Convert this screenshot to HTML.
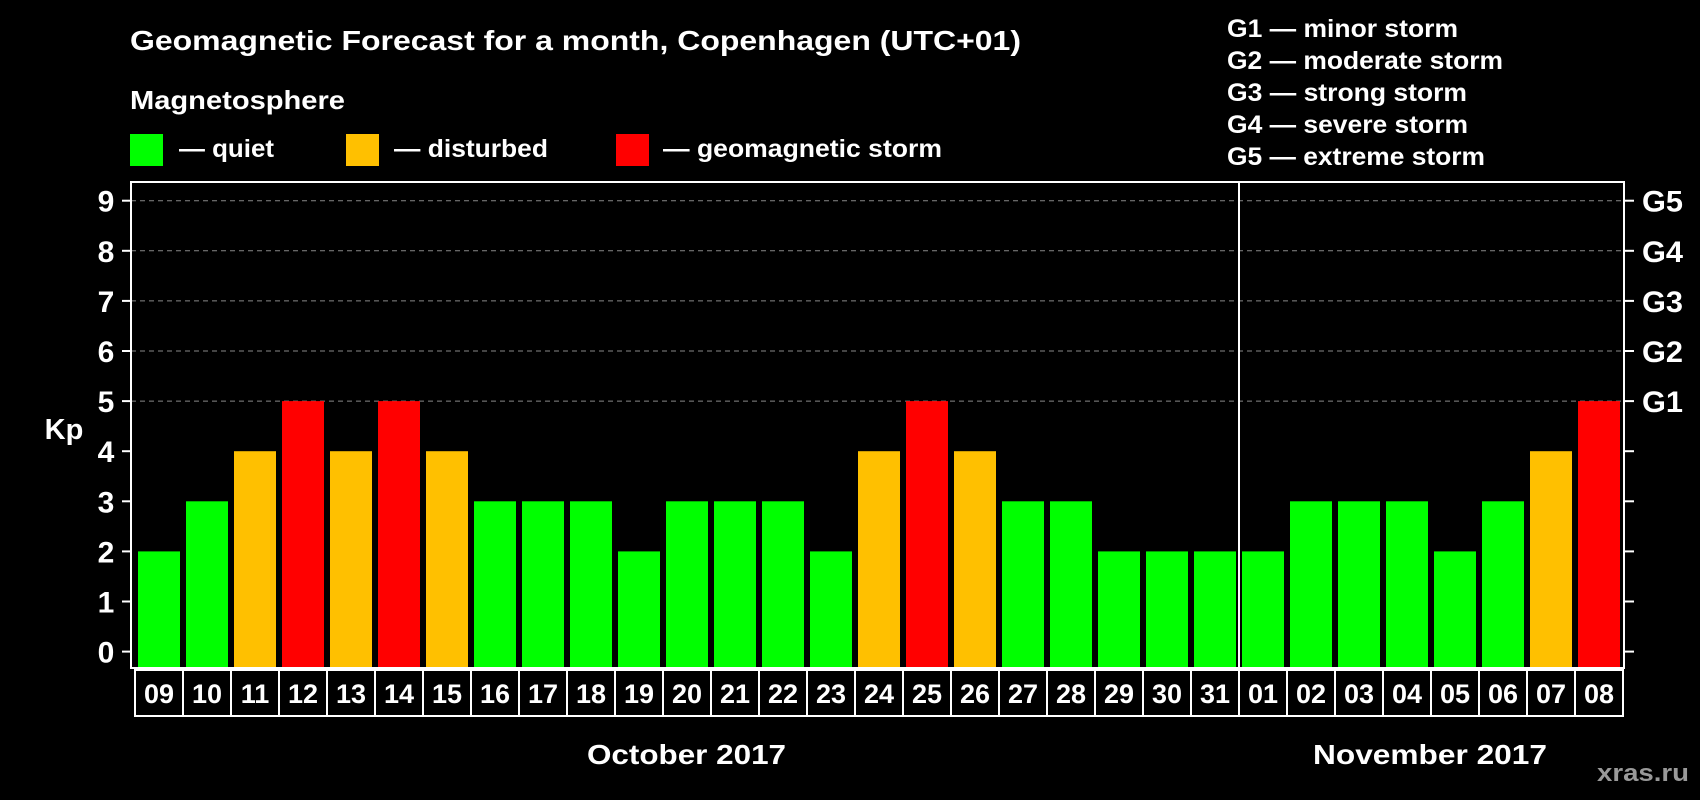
<!DOCTYPE html>
<html><head><meta charset="utf-8"><style>
html,body{margin:0;padding:0;background:#000;}
svg{display:block;font-family:"Liberation Sans",Arial,sans-serif;font-weight:bold;}
</style></head><body>
<svg id="chart" width="1700" height="800" viewBox="0 0 1700 800">
<rect width="1700" height="800" fill="#000"/>
<text x="130" y="50" fill="#fff" font-size="28" textLength="891" lengthAdjust="spacingAndGlyphs">Geomagnetic Forecast for a month, Copenhagen (UTC+01)</text>
<text x="130" y="109" fill="#fff" font-size="26" textLength="215" lengthAdjust="spacingAndGlyphs">Magnetosphere</text>
<rect x="130" y="134" width="33" height="32" fill="#00ff00"/>
<text x="179" y="157" fill="#fff" font-size="25" textLength="95" lengthAdjust="spacingAndGlyphs">— quiet</text>
<rect x="346" y="134" width="33" height="32" fill="#ffc000"/>
<text x="394" y="157" fill="#fff" font-size="25" textLength="154" lengthAdjust="spacingAndGlyphs">— disturbed</text>
<rect x="616" y="134" width="33" height="32" fill="#ff0000"/>
<text x="663" y="157" fill="#fff" font-size="25" textLength="279" lengthAdjust="spacingAndGlyphs">— geomagnetic storm</text>
<g fill="#fff" font-size="25">
<text x="1227" y="37" textLength="231" lengthAdjust="spacingAndGlyphs">G1 — minor storm</text>
<text x="1227" y="69" textLength="276" lengthAdjust="spacingAndGlyphs">G2 — moderate storm</text>
<text x="1227" y="101" textLength="240" lengthAdjust="spacingAndGlyphs">G3 — strong storm</text>
<text x="1227" y="133" textLength="241" lengthAdjust="spacingAndGlyphs">G4 — severe storm</text>
<text x="1227" y="165" textLength="258" lengthAdjust="spacingAndGlyphs">G5 — extreme storm</text>
</g>
<text x="64" y="439" fill="#fff" font-size="29" text-anchor="middle">Kp</text>
<text x="587" y="764" fill="#fff" font-size="28" textLength="199" lengthAdjust="spacingAndGlyphs">October 2017</text>
<text x="1313" y="764" fill="#fff" font-size="28" textLength="234" lengthAdjust="spacingAndGlyphs">November 2017</text>
<text x="1597" y="781" fill="#999" font-size="24" textLength="92" lengthAdjust="spacingAndGlyphs">xras.ru</text>
<g id="plot"></g>
</svg>
<script>
const days = ["09","10","11","12","13","14","15","16","17","18","19","20","21","22","23","24","25","26","27","28","29","30","31","01","02","03","04","05","06","07","08"];
const kpValues = [2,3,4,5,4,5,4,3,3,3,2,3,3,3,2,4,5,4,3,3,2,2,2,2,3,3,3,2,3,4,5];
const yTicks = [0,1,2,3,4,5,6,7,8,9];
const gLabels = ["G1","G2","G3","G4","G5"];
const gLevels = [5,6,7,8,9];
const monthSplitIndex = 23;

const NS = "http://www.w3.org/2000/svg";
const g = document.getElementById("plot");
const plotL = 131, plotR = 1624, plotT = 182, plotB = 668;
const cellL = 135, pitch = 48, barW = 42;
const y = v => 651.6 - v * 50.1;
const x = i => cellL + i * pitch;
function mk(tag, attrs) { const e = document.createElementNS(NS, tag); for (const k in attrs) e.setAttribute(k, attrs[k]); g.appendChild(e); return e; }
function color(v) { return v >= 5 ? "#ff0000" : v >= 4 ? "#ffc000" : "#00ff00"; }

yTicks.forEach(t => {
  if (t >= 5) {
    const l = mk("line", {x1: plotL, x2: plotR, y1: y(t), y2: y(t), stroke: "#888", "stroke-dasharray": "5,4", "stroke-width": 1});
    
    
  }
  const tl = mk("line", {x1: 122, x2: plotL, y1: y(t), y2: y(t), stroke: "#fff", "stroke-width": 2});
  
  
  const tr = mk("line", {x1: plotR, x2: 1634, y1: y(t), y2: y(t), stroke: "#fff", "stroke-width": 2});
  
  
  const tx = mk("text", {x: 106, y: y(t) + 11, fill: "#fff", "font-size": 30, "text-anchor": "middle"});
  tx.textContent = t;
  
  
});
gLabels.forEach((lab, i) => {
  const t = mk("text", {x: 1642, y: y(gLevels[i]) + 11, fill: "#fff", "font-size": 30, textLength: 41, lengthAdjust: "spacingAndGlyphs"});
  t.textContent = lab;
  
  
});
kpValues.forEach((v, i) => {
  const b = mk("rect", {x: x(i) + 3, y: y(v), width: barW, height: plotB - y(v), fill: color(v)});
  
  
});
const frame = mk("rect", {x: plotL, y: plotT, width: plotR - plotL, height: plotB - plotT, fill: "none", stroke: "#fff", "stroke-width": 2});


const split = mk("line", {x1: x(monthSplitIndex), x2: x(monthSplitIndex), y1: plotT, y2: plotB, stroke: "#fff", "stroke-width": 2});


days.forEach((d, i) => {
  const c = mk("rect", {x: x(i), y: 670, width: pitch, height: 46, fill: "none", stroke: "#fff", "stroke-width": 2});
  
  
  const t = mk("text", {x: x(i) + pitch / 2, y: 703, fill: "#fff", "font-size": 27, "text-anchor": "middle"});
  t.textContent = d;
  
  
});
</script>
</body></html>
